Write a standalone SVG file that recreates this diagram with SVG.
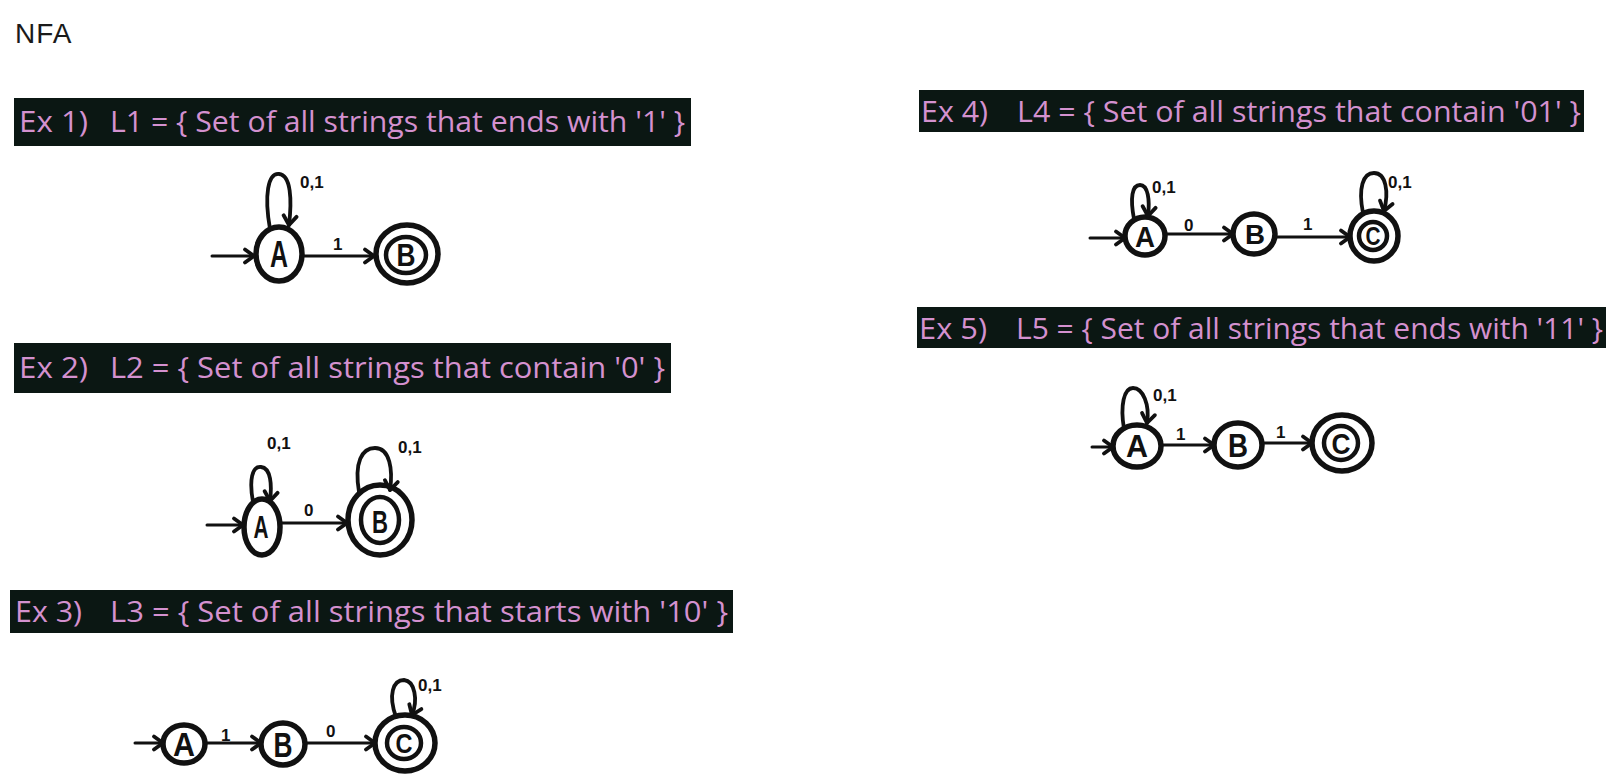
<svg xmlns="http://www.w3.org/2000/svg" width="1617" height="782" viewBox="0 0 1617 782">
<style>
.bg{fill:#ffffff}
.title{font-family:"Liberation Sans",Arial,sans-serif;font-size:28px;fill:#1a1a1a;letter-spacing:1px}
.band{fill:#0b1713}
.bt{font-family:"Open Sans","DejaVu Sans",sans-serif;font-size:29px;fill:#d491cf}
.st{fill:none;stroke:#111;stroke-width:5.5}
.st2{fill:none;stroke:#111;stroke-width:4.5}
.ed{fill:none;stroke:#111;stroke-width:3;stroke-linecap:round}
.lp{fill:none;stroke:#111;stroke-width:3.8;stroke-linecap:round}
.nl{font-family:"Liberation Sans",Arial,sans-serif;font-weight:bold;fill:#111;text-anchor:middle}
.el{font-family:"Liberation Sans",Arial,sans-serif;font-weight:bold;font-size:17px;fill:#111}
</style>
<defs>
<marker id="arr" markerUnits="userSpaceOnUse" markerWidth="18" markerHeight="18" refX="12" refY="9" orient="auto">
<path d="M3,2.5 L12,9 L3,15.5" fill="none" stroke="#111" stroke-width="3.8" stroke-linecap="round" stroke-linejoin="round"/>
</marker>
</defs>
<rect class="bg" x="0" y="0" width="1617" height="782"/>
<text class="title" x="15" y="43">NFA</text>

<g id="banners">
<rect class="band" x="14" y="98" width="677" height="48"/>
<text class="bt" x="19" y="132" textLength="69" lengthAdjust="spacingAndGlyphs">Ex 1)</text>
<text class="bt" x="110" y="132" textLength="575" lengthAdjust="spacingAndGlyphs">L1 = { Set of all strings that ends with '1' }</text>
<rect class="band" x="14" y="343" width="657" height="50"/>
<text class="bt" x="19" y="378" textLength="69" lengthAdjust="spacingAndGlyphs">Ex 2)</text>
<text class="bt" x="110" y="378" textLength="555" lengthAdjust="spacingAndGlyphs">L2 = { Set of all strings that contain '0' }</text>
<rect class="band" x="10" y="590" width="723" height="43"/>
<text class="bt" x="15" y="622" textLength="67" lengthAdjust="spacingAndGlyphs">Ex 3)</text>
<text class="bt" x="110" y="622" textLength="618" lengthAdjust="spacingAndGlyphs">L3 = { Set of all strings that starts with '10' }</text>
<rect class="band" x="919" y="90" width="665" height="42"/>
<text class="bt" x="921" y="122" textLength="67" lengthAdjust="spacingAndGlyphs">Ex 4)</text>
<text class="bt" x="1017" y="122" textLength="564" lengthAdjust="spacingAndGlyphs">L4 = { Set of all strings that contain '01' }</text>
<rect class="band" x="917" y="307" width="689" height="41"/>
<text class="bt" x="919" y="339" textLength="68" lengthAdjust="spacingAndGlyphs">Ex 5)</text>
<text class="bt" x="1016" y="339" textLength="587" lengthAdjust="spacingAndGlyphs">L5 = { Set of all strings that ends with '11' }</text>
</g>

<!-- Ex1 nodes -->
<g id="ex1-A"><ellipse class="st" cx="279" cy="254" rx="23" ry="27"/><text class="nl" x="279" y="267" font-size="36" textLength="18" lengthAdjust="spacingAndGlyphs">A</text></g>
<g id="ex1-B"><ellipse class="st" cx="407" cy="254" rx="31" ry="29"/><ellipse class="st2" cx="406" cy="255" rx="20" ry="18"/><text class="nl" x="406" y="266" font-size="31" textLength="19" lengthAdjust="spacingAndGlyphs">B</text></g>
<!-- Ex2 nodes -->
<g id="ex2-A"><ellipse class="st" cx="262" cy="527" rx="18" ry="28"/><text class="nl" x="261" y="538" font-size="31" textLength="15" lengthAdjust="spacingAndGlyphs">A</text></g>
<g id="ex2-B"><ellipse class="st" cx="380" cy="520" rx="32" ry="35"/><ellipse class="st2" cx="380" cy="520" rx="19" ry="23"/><text class="nl" x="380" y="533" font-size="32" textLength="16" lengthAdjust="spacingAndGlyphs">B</text></g>
<!-- Ex3 nodes -->
<g id="ex3-A"><ellipse class="st" cx="184" cy="744" rx="21" ry="19"/><text class="nl" x="184" y="756" font-size="33" textLength="22" lengthAdjust="spacingAndGlyphs">A</text></g>
<g id="ex3-B"><ellipse class="st" cx="283" cy="744" rx="22" ry="21"/><text class="nl" x="283" y="757" font-size="35" textLength="19" lengthAdjust="spacingAndGlyphs">B</text></g>
<g id="ex3-C"><ellipse class="st" cx="405" cy="743" rx="30" ry="28"/><ellipse class="st2" cx="404" cy="743" rx="17" ry="16"/><text class="nl" x="404" y="753" font-size="27" textLength="17" lengthAdjust="spacingAndGlyphs">C</text></g>
<!-- Ex4 nodes -->
<g id="ex4-A"><ellipse class="st" cx="1145" cy="236" rx="20" ry="19"/><text class="nl" x="1145" y="247" font-size="30" textLength="20" lengthAdjust="spacingAndGlyphs">A</text></g>
<g id="ex4-B"><ellipse class="st" cx="1254" cy="234" rx="21" ry="20"/><text class="nl" x="1255" y="244" font-size="28" textLength="20" lengthAdjust="spacingAndGlyphs">B</text></g>
<g id="ex4-C"><ellipse class="st" cx="1374" cy="236" rx="24" ry="25"/><ellipse class="st2" cx="1373" cy="236" rx="14" ry="14"/><text class="nl" x="1373" y="245" font-size="25" textLength="15" lengthAdjust="spacingAndGlyphs">C</text></g>
<!-- Ex5 nodes -->
<g id="ex5-A"><ellipse class="st" cx="1137" cy="446" rx="24" ry="21"/><text class="nl" x="1137" y="457" font-size="32" textLength="22" lengthAdjust="spacingAndGlyphs">A</text></g>
<g id="ex5-B"><ellipse class="st" cx="1238" cy="445" rx="24" ry="22"/><text class="nl" x="1238" y="457" font-size="34" textLength="20" lengthAdjust="spacingAndGlyphs">B</text></g>
<g id="ex5-C"><ellipse class="st" cx="1342" cy="443" rx="30" ry="28"/><ellipse class="st2" cx="1341" cy="443" rx="17" ry="17"/><text class="nl" x="1341" y="454" font-size="30" textLength="19" lengthAdjust="spacingAndGlyphs">C</text></g>

<g id="connectors">
<!-- Ex1 -->
<line class="ed" x1="212" y1="256" x2="254" y2="256" marker-end="url(#arr)"/>
<path class="lp" d="M270,229 C264,195 268,173 279,174 C291,175 292,200 289,225" marker-end="url(#arr)"/>
<line class="ed" x1="303" y1="256" x2="374" y2="256" marker-end="url(#arr)"/>
<!-- Ex2 -->
<line class="ed" x1="207" y1="525" x2="243" y2="525" marker-end="url(#arr)"/>
<path class="lp" d="M253,502 C249,480 252,466 261,467 C271,468 272,485 270,501" marker-end="url(#arr)"/>
<line class="ed" x1="280" y1="523" x2="347" y2="523" marker-end="url(#arr)"/>
<path class="lp" d="M359,492 C354,462 362,448 375,448 C390,448 393,470 390,490" marker-end="url(#arr)"/>
<!-- Ex3 -->
<line class="ed" x1="135" y1="743" x2="163" y2="743" marker-end="url(#arr)"/>
<line class="ed" x1="205" y1="743" x2="261" y2="743" marker-end="url(#arr)"/>
<line class="ed" x1="305" y1="743" x2="375" y2="743" marker-end="url(#arr)"/>
<path class="lp" d="M396,717 C388,695 393,680 404,680 C415,681 418,700 412,715" marker-end="url(#arr)"/>
<!-- Ex4 -->
<line class="ed" x1="1090" y1="238" x2="1125" y2="238" marker-end="url(#arr)"/>
<path class="lp" d="M1134,219 C1130,198 1132,185 1140,185 C1148,185 1150,200 1148,216" marker-end="url(#arr)"/>
<line class="ed" x1="1165" y1="234" x2="1233" y2="234" marker-end="url(#arr)"/>
<line class="ed" x1="1275" y1="237" x2="1350" y2="237" marker-end="url(#arr)"/>
<path class="lp" d="M1363,213 C1358,188 1363,173 1374,173 C1386,173 1389,192 1384,211" marker-end="url(#arr)"/>
<!-- Ex5 -->
<line class="ed" x1="1092" y1="447" x2="1113" y2="447" marker-end="url(#arr)"/>
<path class="lp" d="M1124,429 C1120,405 1124,388 1133,388 C1143,388 1150,405 1147,423" marker-end="url(#arr)"/>
<line class="ed" x1="1162" y1="445" x2="1214" y2="445" marker-end="url(#arr)"/>
<line class="ed" x1="1263" y1="443" x2="1312" y2="443" marker-end="url(#arr)"/>
</g>

<g id="edge-labels">
<text class="el" x="300" y="188">0,1</text>
<text class="el" x="333" y="250">1</text>
<text class="el" x="267" y="449">0,1</text>
<text class="el" x="398" y="453">0,1</text>
<text class="el" x="304" y="516">0</text>
<text class="el" x="221" y="741">1</text>
<text class="el" x="326" y="737">0</text>
<text class="el" x="418" y="691">0,1</text>
<text class="el" x="1152" y="193">0,1</text>
<text class="el" x="1184" y="231">0</text>
<text class="el" x="1303" y="230">1</text>
<text class="el" x="1388" y="188">0,1</text>
<text class="el" x="1153" y="401">0,1</text>
<text class="el" x="1176" y="440">1</text>
<text class="el" x="1276" y="438">1</text>
</g>
</svg>
